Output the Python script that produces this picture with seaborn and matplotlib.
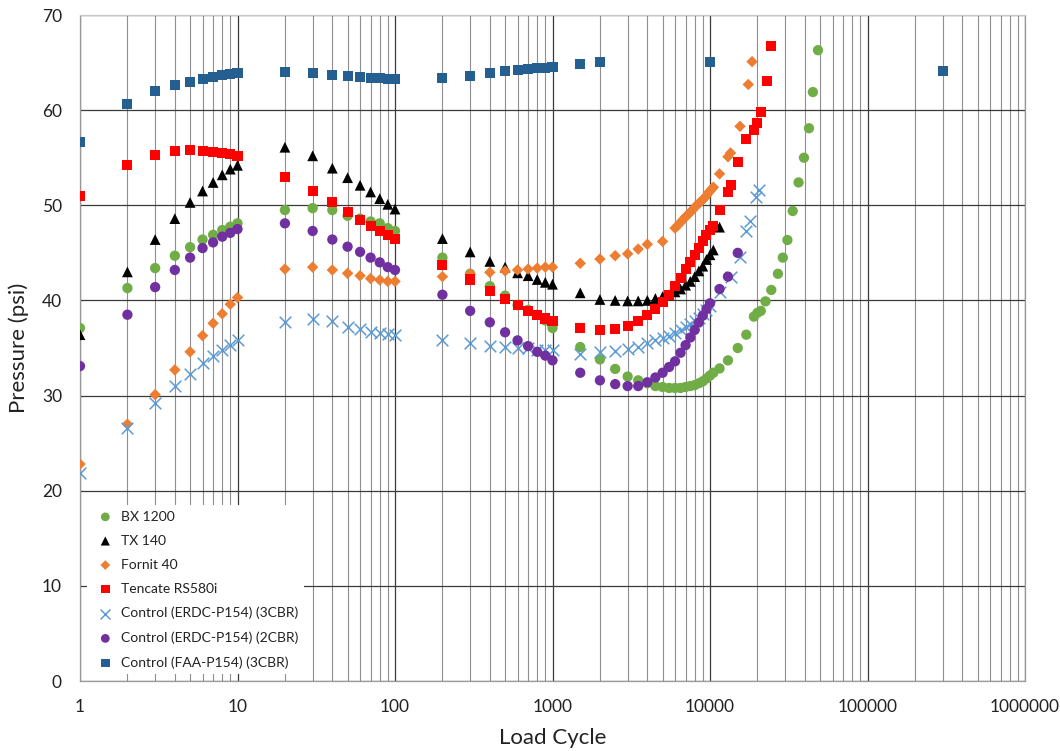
import matplotlib
matplotlib.use("Agg")
import matplotlib.pyplot as plt
import matplotlib.ticker as mticker
import seaborn as sns
import pandas as pd

# ---- load cycles shared by the early readings ----
early_cycles = [1, 2, 3, 4, 5, 6, 7, 8, 9, 10,
                20, 30, 40, 50, 60, 70, 80, 90, 100,
                200, 300, 400, 500, 600, 700, 800, 900, 1000, 1500]

# BX 1200
bx_x = early_cycles + [2000, 2500, 3000, 3500, 4000, 4500, 5000, 5500, 6000, 6500,
                       7000, 7500, 8000, 8500, 9000, 9500, 10000, 10500,
                       11500, 13000, 15000, 17000, 19000, 20000, 21000, 22500,
                       24500, 27000, 29000, 31000, 33500, 36500, 39500, 42500,
                       45000, 48500]
bx_y = [37.1, 41.3, 43.4, 44.7, 45.6, 46.4, 46.9, 47.4, 47.75, 48.1,
        49.5, 49.7, 49.5, 48.9, 48.6, 48.3, 48.1, 47.6, 47.3,
        44.5, 42.8, 41.5, 40.5, 39.5, 39.0, 38.5, 37.9, 37.1, 35.1,
        33.8, 32.8, 32.0, 31.6, 31.3, 31.0, 30.9, 30.8, 30.8, 30.8,
        30.9, 31.0, 31.1, 31.3, 31.5, 31.8, 32.1, 32.4,
        32.85, 33.7, 35.0, 36.4, 38.3, 38.7, 38.9, 39.9,
        41.1, 42.8, 44.5, 46.35, 49.4, 52.4, 55.0, 58.1,
        61.9, 66.3]

# TX 140
tx_x = early_cycles + [2000, 2500, 3000, 3500, 4000, 4500, 5000, 5500, 6000, 6500,
                       7000, 7500, 8000, 8500, 9000, 9500, 10000, 10500, 11500]
tx_y = [36.4, 43.0, 46.4, 48.6, 50.3, 51.5, 52.4, 53.2, 53.8, 54.2,
        56.1, 55.2, 53.9, 52.9, 52.1, 51.4, 50.7, 50.1, 49.6,
        46.5, 45.1, 44.1, 43.5, 42.9, 42.6, 42.2, 41.9, 41.7, 40.8,
        40.1, 40.0, 39.95, 39.95, 40.0, 40.2, 40.4, 40.6, 40.9, 41.2,
        41.6, 42.0, 42.5, 43.1, 43.6, 44.3, 44.8, 45.3, 47.7]

# Fornit 40
fo_x = early_cycles + [2000, 2500, 3000, 3500, 4000, 5000,
                       6000, 6250, 6500, 6750, 7000, 7250, 7500, 7750, 8000, 8250,
                       8500, 8750, 9000, 9250, 9500, 9750, 10000, 10250, 10500,
                       11500, 13000, 13500, 15500, 17500, 18500]
fo_y = [22.8, 27.0, 30.1, 32.7, 34.6, 36.3, 37.6, 38.6, 39.6, 40.3,
        43.3, 43.5, 43.2, 42.85, 42.6, 42.3, 42.15, 42.0, 42.0,
        42.5, 42.8, 42.95, 43.1, 43.2, 43.3, 43.4, 43.5, 43.5, 43.9,
        44.35, 44.7, 44.9, 45.4, 45.9, 46.2,
        47.6, 47.9, 48.2, 48.5, 48.8, 49.0, 49.3, 49.5, 49.8, 50.0,
        50.2, 50.4, 50.6, 50.8, 51.0, 51.3, 51.5, 51.7, 51.9,
        53.3, 55.1, 55.5, 58.3, 62.7, 65.1]

# Tencate RS580i
te_x = early_cycles + [2000, 2500, 3000, 3500, 4000, 4500, 5000, 5500, 6000, 6500,
                       7000, 7500, 8000, 8500, 9000, 9500, 10000, 10500,
                       11500, 13000, 13500, 15000, 17000, 19000, 20000, 21000,
                       23000, 24500]
te_y = [51.0, 54.2, 55.3, 55.7, 55.8, 55.7, 55.6, 55.5, 55.4, 55.15,
        53.0, 51.5, 50.3, 49.3, 48.5, 47.8, 47.3, 46.9, 46.5,
        43.7, 42.2, 41.0, 40.2, 39.5, 38.9, 38.5, 38.1, 37.8, 37.1,
        36.9, 37.0, 37.35, 37.8, 38.5, 39.1, 39.8, 40.6, 41.5, 42.4,
        43.3, 44.0, 44.8, 45.5, 46.2, 46.9, 47.4, 47.8,
        49.5, 51.4, 52.1, 54.5, 57.0, 57.9, 58.7, 59.8,
        63.1, 66.7]

# Control (ERDC-P154) (3CBR)
c3_x = early_cycles + [2000, 2500, 3000, 3500, 4000, 4500, 5000, 5500, 6000, 6500,
                       7000, 7500, 8000, 8500, 9000, 9500, 10000,
                       11500, 13500, 15500, 17000, 18000, 19500, 20500]
c3_y = [21.9, 26.55, 29.25, 31.0, 32.3, 33.4, 34.2, 34.8, 35.3, 35.8,
        37.7, 38.0, 37.8, 37.2, 37.0, 36.7, 36.6, 36.5, 36.4,
        35.8, 35.5, 35.2, 35.1, 35.0, 35.0, 34.8, 34.8, 34.8, 34.4,
        34.6, 34.7, 34.9, 35.1, 35.5, 35.8, 36.0, 36.3, 36.6, 36.9,
        37.2, 37.5, 37.8, 38.2, 38.6, 39.0, 39.4,
        40.9, 42.5, 44.6, 47.3, 48.4, 50.9, 51.6]

# Control (ERDC-P154) (2CBR)
c2_x = early_cycles + [2000, 2500, 3000, 3500, 4000, 4500, 5000, 5500, 6000, 6500,
                       7000, 7500, 8000, 8500, 9000, 9500, 10000,
                       11500, 13000, 15000]
c2_y = [33.1, 38.5, 41.4, 43.2, 44.5, 45.5, 46.1, 46.7, 47.1, 47.5,
        48.1, 47.3, 46.4, 45.65, 45.1, 44.5, 44.0, 43.5, 43.2,
        40.6, 38.9, 37.7, 36.65, 35.8, 35.2, 34.6, 34.2, 33.7, 32.4,
        31.6, 31.2, 31.0, 31.0, 31.4, 31.9, 32.4, 33.0, 33.6, 34.5,
        35.3, 36.1, 36.9, 37.7, 38.4, 39.1, 39.7,
        41.2, 42.5, 45.0]

# Control (FAA-P154) (3CBR)
fa_x = early_cycles + [2000, 10000, 300000]
fa_y = [56.7, 60.6, 62.0, 62.6, 63.0, 63.3, 63.5, 63.7, 63.8, 63.9,
        64.0, 63.9, 63.7, 63.6, 63.5, 63.4, 63.35, 63.3, 63.3,
        63.4, 63.6, 63.9, 64.1, 64.2, 64.3, 64.4, 64.4, 64.5, 64.9,
        65.1, 65.1, 64.1]

series = [
    ("BX 1200", bx_x, bx_y, "o", "#70AD47", 55),
    ("TX 140", tx_x, tx_y, "^", "#000000", 60),
    ("Fornit 40", fo_x, fo_y, "D", "#ED7D31", 34),
    ("Tencate RS580i", te_x, te_y, "s", "#FF0000", 52),
    ("Control (ERDC-P154) (3CBR)", c3_x, c3_y, "x", "#5B9BD5", 70),
    ("Control (ERDC-P154) (2CBR)", c2_x, c2_y, "o", "#7030A0", 55),
    ("Control (FAA-P154) (3CBR)", fa_x, fa_y, "s", "#255E91", 52),
]

sns.set_theme(style="white")
plt.rcParams["font.family"] = ["Lato", "DejaVu Sans"]

fig = plt.figure(figsize=(10.6, 7.51), dpi=100)
ax = fig.add_axes([80 / 1060, 70 / 751, 945 / 1060, 666 / 751])

for name, xs, ys, mk, col, size in series:
    df = pd.DataFrame({"cycle": xs, "psi": ys})
    if mk == "x":
        sns.scatterplot(data=df, x="cycle", y="psi", ax=ax, marker=mk, color=col,
                        s=size, linewidth=1.1, label=name, zorder=3)
    else:
        sns.scatterplot(data=df, x="cycle", y="psi", ax=ax, marker=mk, color=col,
                        s=size, linewidth=0, edgecolor="none", label=name, zorder=3)

ax.set_xscale("log")
ax.set_xlim(1, 1e6)
ax.set_ylim(0, 70)
ax.yaxis.set_major_locator(mticker.MultipleLocator(10))
ax.xaxis.set_major_locator(mticker.FixedLocator([1, 10, 100, 1000, 10000, 100000, 1000000]))
ax.xaxis.set_minor_locator(mticker.LogLocator(base=10, subs=range(2, 10), numticks=100))
ax.xaxis.set_major_formatter(mticker.FuncFormatter(lambda v, p: f"{v:.0f}"))
ax.xaxis.set_minor_formatter(mticker.NullFormatter())

ax.grid(True, which="major", axis="both", color="#3a3a3a", linewidth=0.9, zorder=0)
ax.grid(True, which="minor", axis="x", color="#8f8f8f", linewidth=0.8, zorder=0)
ax.set_axisbelow(True)

for side in ["left", "bottom", "right"]:
    ax.spines[side].set_color("#9a9a9a")
    ax.spines[side].set_linewidth(0.9)
ax.spines["top"].set_color("#c8c8c8")
ax.spines["top"].set_linewidth(0.9)

ax.tick_params(axis="both", which="both", length=0, labelsize=12.5, colors="#222222")
ax.tick_params(axis="x", pad=13)
ax.tick_params(axis="y", pad=13)

ax.set_xlabel("Load Cycle", fontsize=16, color="#222222", labelpad=9)
ax.set_ylabel("Pressure (psi)", fontsize=16, color="#222222", labelpad=9)

leg = ax.legend(loc="lower left", bbox_to_anchor=(0.004, 0.006), fontsize=10,
                frameon=True, facecolor="white", edgecolor="white", framealpha=1,
                handletextpad=0.2, labelspacing=0.87, borderpad=0.4,
                handlelength=1.9, markerscale=0.85, borderaxespad=0.2)
leg.get_frame().set_linewidth(0)
for t in leg.get_texts():
    t.set_color("#222222")

fig.savefig("out.png", dpi=100)
